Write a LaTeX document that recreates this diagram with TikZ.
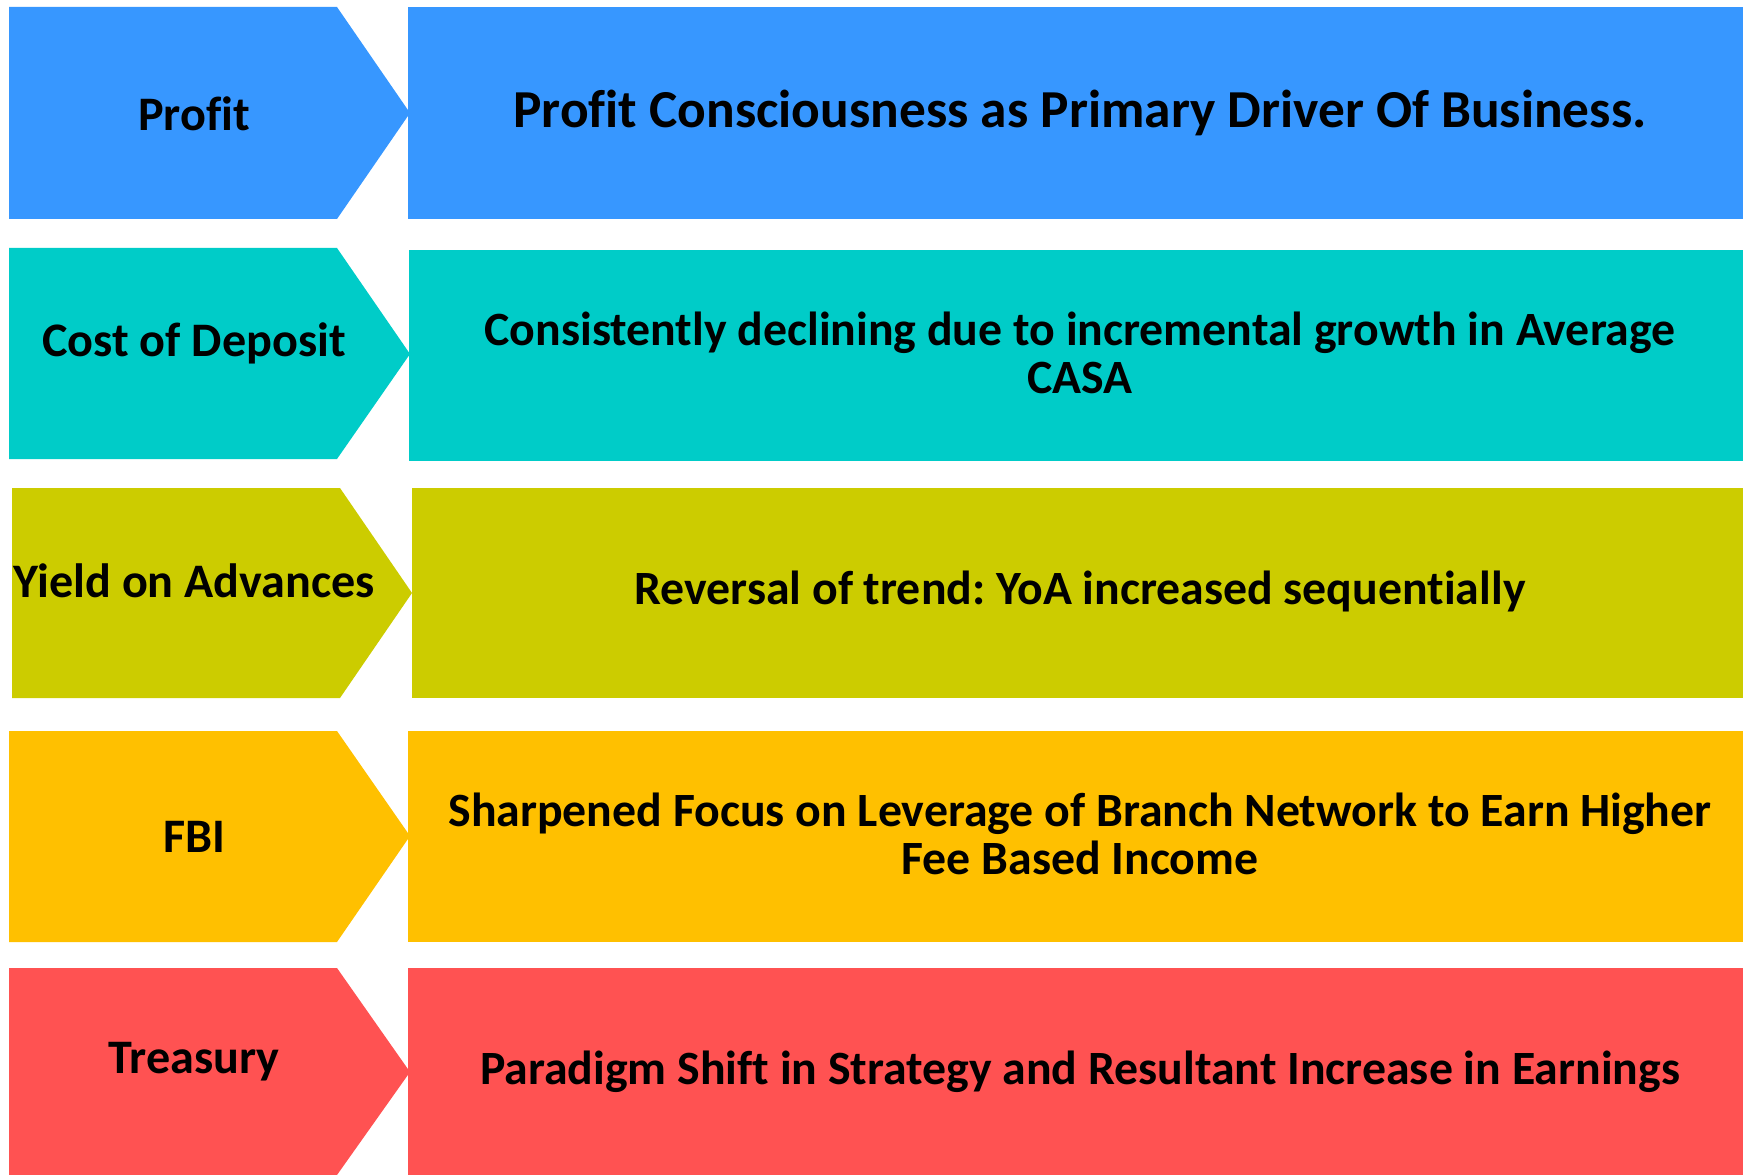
\documentclass[tikz,border=0pt]{standalone}
\usepackage{fontspec}
\setmainfont{Carlito}[Ligatures=NoCommon]
\usepackage{xcolor}
\definecolor{profitblue}{HTML}{3797FF}
\definecolor{deposteal}{HTML}{00CCC8}
\definecolor{yieldolive}{HTML}{CCCC00}
\definecolor{fbiamber}{HTML}{FFC000}
\definecolor{treasred}{HTML}{FF5252}
\frenchspacing

\begin{document}
\begin{tikzpicture}[x=0.02cm, y=-0.02cm,
  label/.style={font=\fontsize{27.4}{29}\selectfont\bfseries, inner sep=0pt, align=center},
  desc/.style={font=\fontsize{27.2}{27.5}\selectfont\bfseries, inner sep=0pt, align=center}]
\useasboundingbox (0,0) rectangle (1743,1175);
% row 1
\fill[profitblue] (9,7) -- (337,7) -- (410,113) -- (337,219) -- (9,219) -- cycle;
\fill[profitblue] (408,7) rectangle (1743,219);
\node[label] (profit) at (194,114) {Profit};
\node[desc, font=\fontsize{30.4}{31}\selectfont\bfseries] (profitdesc) at (1080,113) {Profit Consciousness as Primary Driver Of Business.};
% row 2
\fill[deposteal] (9,248) -- (337,248) -- (410,354) -- (337,459) -- (9,459) -- cycle;
\fill[deposteal] (409,250) rectangle (1743,461);
\node[label] (deposit) at (194,343) {Cost of Deposit};
\node[desc] (depositdesc) at (1080,353) {Consistently declining due to incremental growth in Average\\CASA};
% row 3
\fill[yieldolive] (12,488) -- (340,488) -- (412,593) -- (340,698) -- (12,698) -- cycle;
\fill[yieldolive] (412,488) rectangle (1743,698);
\node[label] (yield) at (194,581) {Yield on Advances};
\node[desc] (yielddesc) at (1080,591) {Reversal of trend: YoA increased sequentially};
% row 4
\fill[fbiamber] (9,731) -- (337,731) -- (410,836) -- (337,942) -- (9,942) -- cycle;
\fill[fbiamber] (408,731) rectangle (1743,942);
\node[label] (fbi) at (194,837) {FBI};
\node[desc] (fbidesc) at (1080,834) {Sharpened Focus on Leverage of Branch Network to Earn Higher\\Fee Based Income};
% row 5
\fill[treasred] (9,968) -- (337,968) -- (410,1072) -- (337,1175) -- (9,1175) -- cycle;
\fill[treasred] (408,968) rectangle (1743,1175);
\node[label] (treasury) at (194,1062) {Treasury};
\node[desc] (treasurydesc) at (1080,1072) {Paradigm Shift in Strategy and Resultant Increase in Earnings};
\end{tikzpicture}
\end{document}
